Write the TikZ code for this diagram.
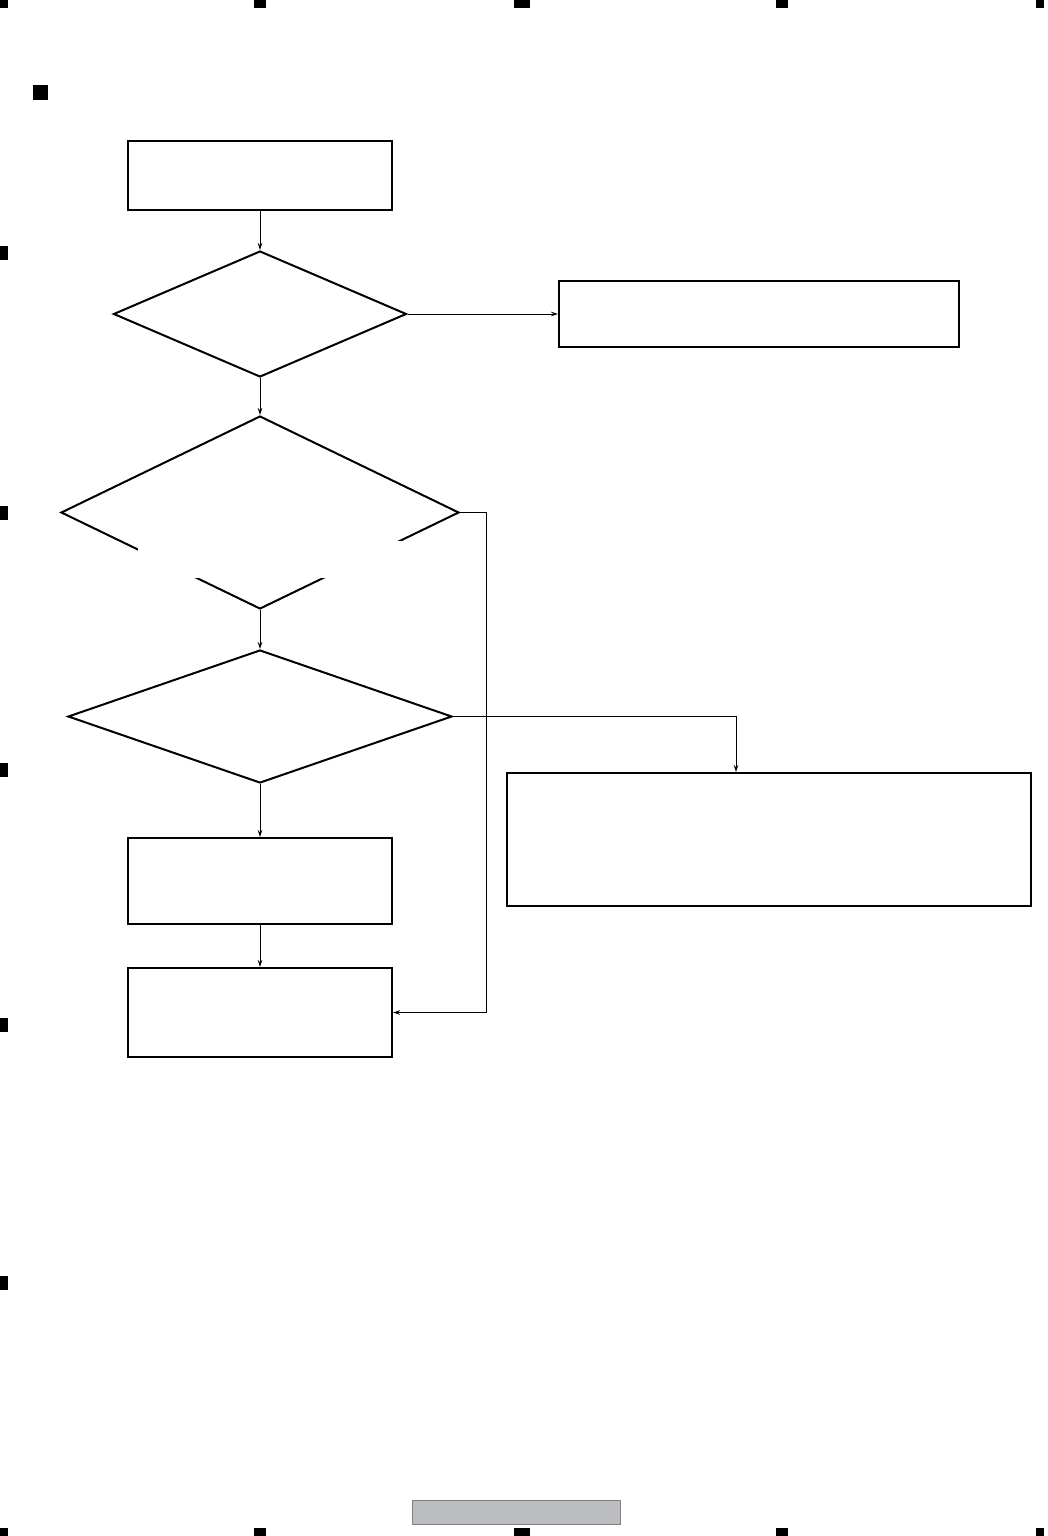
\documentclass[tikz,border=0pt]{standalone}
\usetikzlibrary{positioning,shapes.geometric,arrows.meta}

\begin{document}
\begin{tikzpicture}[x=1pt,y=-1pt,on grid,>={Stealth[length=7pt,width=4.5pt]},
   box/.style={draw,rectangle,line width=2pt,inner sep=0pt},
   decision/.style={draw,diamond,line width=2pt,inner sep=0pt},
   link/.style={->,line width=0.9pt},
   marker/.style={fill=black}]
   \useasboundingbox (0,0) rectangle (1047,1536);
   % page markers
   \foreach \mx/\mw in {0/8,254/12,514/16,776/12,1036/8} {
     \fill[marker] (\mx,0) rectangle ++(\mw,8);
     \fill[marker] (\mx,1528) rectangle ++(\mw,8);
   }
   \foreach \my in {253,513,770,1025,1283}
     \fill[marker] (0,\my-7) rectangle ++(8,14);
   \fill[marker] (33,85) rectangle (48,100);
   \fill[fill={rgb,255:red,188;green,189;blue,192},draw={rgb,255:red,128;green,128;blue,130},line width=0.8pt]
     (412,1500) rectangle (620,1524);

   % flow
   \node[box,minimum width=264pt,minimum height=69pt] (start) at (260,175.5) {};
   \node[decision,minimum width=293pt,minimum height=126pt] (chk1) [below=138.5pt of start] {};
   \node[box,minimum width=400pt,minimum height=66pt] (fail) [right=499pt of chk1] {};
   \node[decision,minimum width=398pt,minimum height=193pt] (chk2) [below=198.5pt of chk1] {};
   \node[decision,minimum width=384pt,minimum height=133pt] (chk3) [below=204pt of chk2] {};
   \node[box,minimum width=524pt,minimum height=133pt] (note) at (769,839.5) {};
   \node[box,minimum width=264pt,minimum height=86pt] (act) [below=164.5pt of chk3] {};
   \node[box,minimum width=264pt,minimum height=89pt] (done) [below=131.5pt of act] {};
   \fill[white] (138,541) rectangle (402,578);

   \draw[link] (start) -- (chk1);
   \draw[link] (chk1) -- (fail);
   \draw[link] (chk1) -- (chk2);
   \draw[link] (chk2) -- (chk3);
   \draw[link] (chk3) -- (act);
   \draw[link] (act) -- (done);
   \draw[link] (chk2.east) -- ++(26,0) |- (done.east);
   \draw[link] (chk3.east) -| ([xshift=-33pt]note.north);
\end{tikzpicture}
\end{document}
